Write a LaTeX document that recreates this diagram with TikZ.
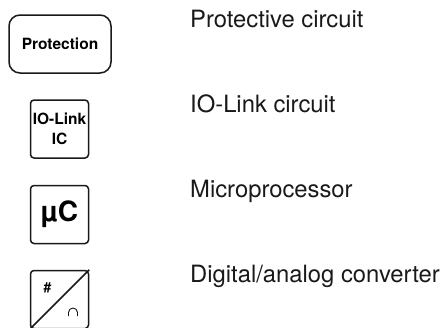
\documentclass[tikz,border=0pt]{standalone}
\usepackage{fontspec}
\setmainfont{TeX Gyre Heros}
\tikzset{
  x=1pt,y=-1pt,
  sym/.style={draw=black!90,line width=1.5pt,rounded corners=3.5pt,minimum width=58pt,minimum height=58pt,inner sep=0pt,align=center,font=\bfseries\fontsize{15.5}{20}\selectfont},
  wide/.style={sym,rounded corners=11pt,minimum width=102pt},
  desc/.style={anchor=base west,inner sep=0pt,font=\fontsize{23.8}{26}\selectfont,text=black!90}
}
\begin{document}
\begin{tikzpicture}
\useasboundingbox (0,0) rectangle (444,327);
\clip (0,0) rectangle (444,327);
\node[wide] (prot) at (60,44) {Protection};
\node[sym] (io) at (59.5,129) {IO-Link\\IC};
\node[sym,font=\bfseries\fontsize{28}{30}\selectfont] (uc) at (59.5,214.5) {µC};
\node[sym] (da) at (59.5,299.5) {};
\draw[line width=1.5pt,black!90] (da.south west) -- (da.north east);
\node[inner sep=0pt,font=\bfseries\fontsize{14}{14}\selectfont] (hash) at (47.5,288) {\#};
\coordinate (capl) at (68.5,316);
\coordinate (capr) at (77.5,316);
\draw[line width=0.9pt,black!90] (capl) -- ++(0,-3.5) arc[start angle=180,end angle=0,radius=4.5pt] -- (capr);
\node[desc] (t1) at (190,27) {Protective circuit};
\node[desc] (t2) at (190,112) {IO-Link circuit};
\node[desc] (t3) at (190,197) {Microprocessor};
\node[desc] (t4) at (190,282) {Digital/analog converter};
\end{tikzpicture}
\end{document}
